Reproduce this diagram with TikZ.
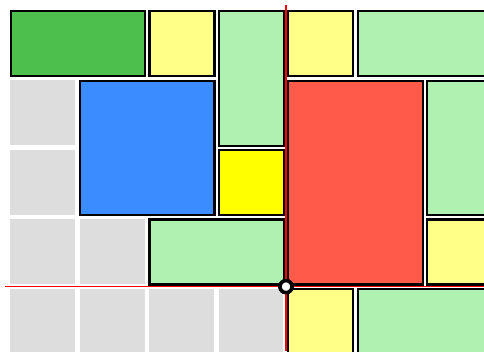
\documentclass[tikz,border=0pt]{standalone}
\definecolor{dgreen}{HTML}{4CBF4C}
\definecolor{lyellow}{HTML}{FFFF88}
\definecolor{lgreen}{HTML}{B0F0B0}
\definecolor{bblue}{HTML}{3A8CFF}
\definecolor{byellow}{HTML}{FFFF00}
\definecolor{rred}{HTML}{FF5A4A}
\definecolor{cgray}{HTML}{DDDDDD}
\tikzset{
  blockbox/.style={draw=black, line width=2.2pt, line join=miter},
  graycell/.style={fill=cgray, draw=none},
  guide/.style={draw=red, line width=1.5pt},
  pivot/.style={circle, draw=black, fill=white, line width=3.5pt, minimum size=12pt, inner sep=0pt}
}
\newcommand\gx[1]{8.4+69.4*(#1)}
\newcommand\gy[1]{9+69.4*(#1)}
\newcommand\blk[5]{\path[blockbox, fill=#5] ({\gx{#1}+2.2},{\gy{#2}+2.2}) rectangle ({\gx{#3}-2.2},{\gy{#4}-2.2});}
\newcommand\gcell[2]{\path[graycell] ({\gx{#1}+2},{\gy{#2}+2}) rectangle ({\gx{#1+1}-2.6},{\gy{#2+1}-2.6});}
\begin{document}
\begin{tikzpicture}[x=1pt,y=-1pt]
\useasboundingbox (0,0) rectangle (484,351);
\clip (0,0) rectangle (484,351);
% gray cells
\gcell{0}{1}\gcell{0}{2}\gcell{0}{3}\gcell{1}{3}
\gcell{0}{4}\gcell{1}{4}\gcell{2}{4}\gcell{3}{4}
% row 0
\blk{0}{0}{2}{1}{dgreen}
\blk{2}{0}{3}{1}{lyellow}
\blk{3}{0}{4}{2}{lgreen}
\blk{4}{0}{5}{1}{lyellow}
\blk{5}{0}{7}{1}{lgreen}
% middle
\blk{1}{1}{3}{3}{bblue}
\blk{3}{2}{4}{3}{byellow}
\blk{4}{1}{6}{4}{rred}
\blk{6}{1}{7}{3}{lgreen}
\blk{6}{3}{7}{4}{lyellow}
\blk{2}{3}{4}{4}{lgreen}
% bottom
\blk{4}{4}{5}{5}{lyellow}
\blk{5}{4}{7}{5}{lgreen}
% guides
\coordinate (vtop) at ({\gx{4}},5);
\coordinate (vbot) at ({\gx{4}},351);
\coordinate (hleft) at (5,{\gy{4}});
\coordinate (hright) at (484,{\gy{4}});
\node[pivot] (p) at ({\gx{4}},{\gy{4}}) {};
\draw[guide] (vtop) -- (p.north);
\draw[guide] (p.south) -- (vbot);
\draw[guide] (hleft) -- (p.west);
\draw[guide] (p.east) -- (hright);
\node[pivot] at (p) {};
\end{tikzpicture}
\end{document}
